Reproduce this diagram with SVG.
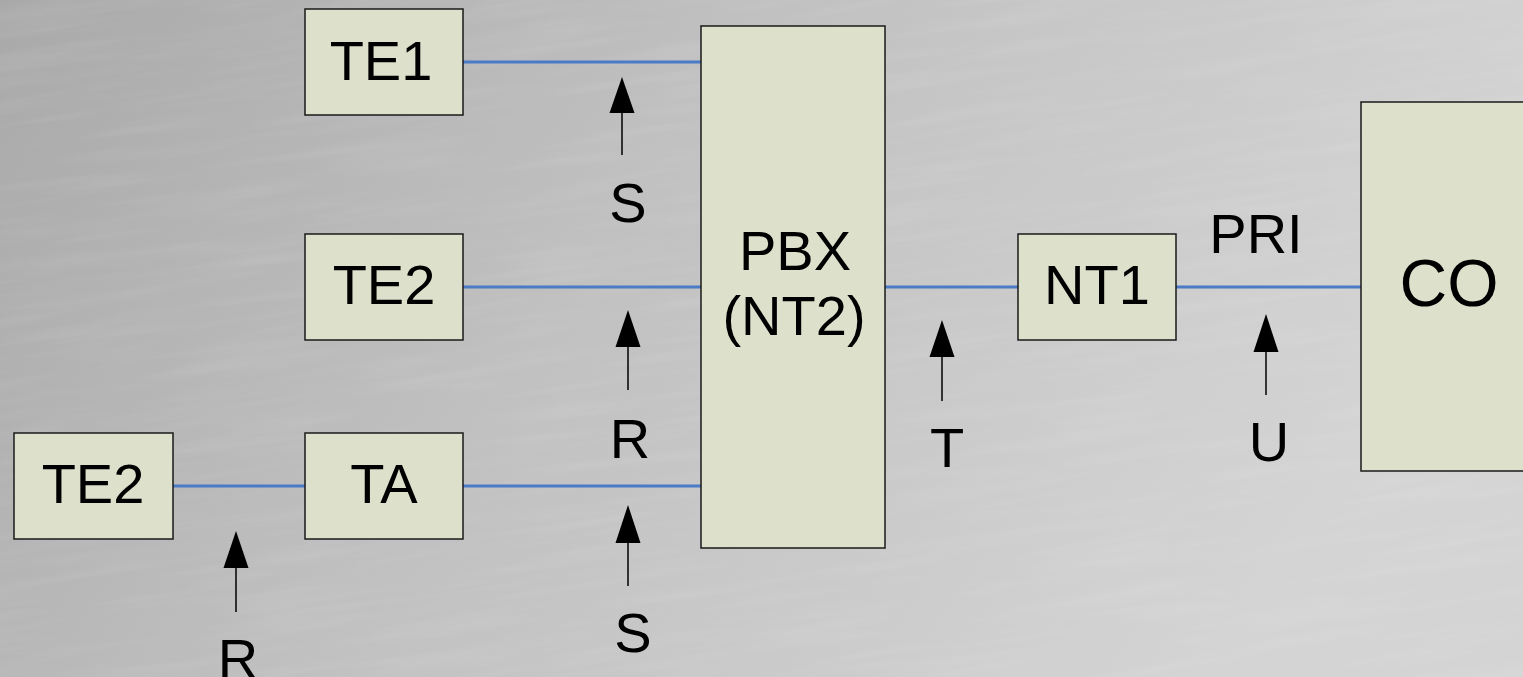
<svg xmlns="http://www.w3.org/2000/svg" width="1523" height="677" viewBox="0 0 1523 677">
<style>
.box{fill:#dde0cb;stroke:#1a1a1a;stroke-width:1.5}
.lbl{font-family:"Liberation Sans",Arial,sans-serif;font-size:56px;fill:#000;text-anchor:middle}
.wire{stroke:#4a7bc6;stroke-width:3;fill:none}
.ref{stroke:#000;stroke-width:1.5;fill:none}
.head{fill:#000}
</style>
<defs>
<linearGradient id="bg" x1="0" y1="0" x2="1" y2="0.3">
<stop offset="0" stop-color="#a9a9a9"/>
<stop offset="0.45" stop-color="#c0c0c0"/>
<stop offset="1" stop-color="#d4d4d4"/>
</linearGradient>
<filter id="brush" x="0" y="0" width="100%" height="100%">
<feTurbulence type="fractalNoise" baseFrequency="0.006 0.08" numOctaves="3" seed="4" result="n"/>
<feColorMatrix in="n" type="matrix" values="0 0 0 0 1  0 0 0 0 1  0 0 0 0 1  0.5 0 0 0 -0.22"/>
</filter>
</defs>
<rect width="1523" height="677" fill="url(#bg)"/>
<g transform="rotate(-8 761 338)"><rect x="-200" y="-200" width="1923" height="1077" filter="url(#brush)" opacity="0.35"/></g>
<g id="connectors">
<line class="wire" x1="463" y1="62" x2="701" y2="62"/>
<line class="wire" x1="463" y1="287" x2="701" y2="287"/>
<line class="wire" x1="463" y1="486" x2="701" y2="486"/>
<line class="wire" x1="173" y1="486" x2="305" y2="486"/>
<line class="wire" x1="885" y1="287" x2="1018" y2="287"/>
<line class="wire" x1="1176" y1="287" x2="1361" y2="287"/>
</g>
<g id="refpoints">
<g id="ref-s1"><line class="ref" x1="622" y1="110" x2="622" y2="155"/><polygon class="head" points="622,77 609.5,113 634.5,113"/><text class="lbl" x="628" y="222">S</text></g>
<g id="ref-r1"><line class="ref" x1="628" y1="344" x2="628" y2="390"/><polygon class="head" points="628,310 615.5,347 640.5,347"/><text class="lbl" x="630" y="458">R</text></g>
<g id="ref-s2"><line class="ref" x1="628" y1="540" x2="628" y2="586"/><polygon class="head" points="628,505 615.5,543 640.5,543"/><text class="lbl" x="633" y="652">S</text></g>
<g id="ref-r2"><line class="ref" x1="236" y1="565" x2="236" y2="612"/><polygon class="head" points="236,531 223.5,568 248.5,568"/><text class="lbl" x="238" y="678">R</text></g>
<g id="ref-t"><line class="ref" x1="942" y1="354" x2="942" y2="401"/><polygon class="head" points="942,320 929.5,357 954.5,357"/><text class="lbl" x="947" y="467">T</text></g>
<g id="ref-u"><line class="ref" x1="1266" y1="349" x2="1266" y2="395"/><polygon class="head" points="1266,314 1253.5,352 1278.5,352"/><text class="lbl" x="1269" y="461">U</text></g>
<text id="pri" class="lbl" x="1256" y="253">PRI</text>
</g>
<g id="te1"><rect class="box" x="305" y="9" width="158" height="106"/><text class="lbl" x="381" y="80">TE1</text></g>
<g id="te2a"><rect class="box" x="305" y="234" width="158" height="106"/><text class="lbl" x="384" y="304">TE2</text></g>
<g id="ta"><rect class="box" x="305" y="433" width="158" height="106"/><text class="lbl" x="384" y="503">TA</text></g>
<g id="te2b"><rect class="box" x="14" y="433" width="159" height="106"/><text class="lbl" x="93" y="503">TE2</text></g>
<g id="pbx"><rect class="box" x="701" y="26" width="184" height="522"/><text class="lbl" x="795" y="270">PBX</text><text class="lbl" x="794" y="335">(NT2)</text></g>
<g id="nt1"><rect class="box" x="1018" y="234" width="158" height="106"/><text class="lbl" x="1097" y="304">NT1</text></g>
<g id="co"><rect class="box" x="1361" y="102" width="180" height="369"/><text class="lbl" x="1449" y="306" style="font-size:66px">CO</text></g>
</svg>
